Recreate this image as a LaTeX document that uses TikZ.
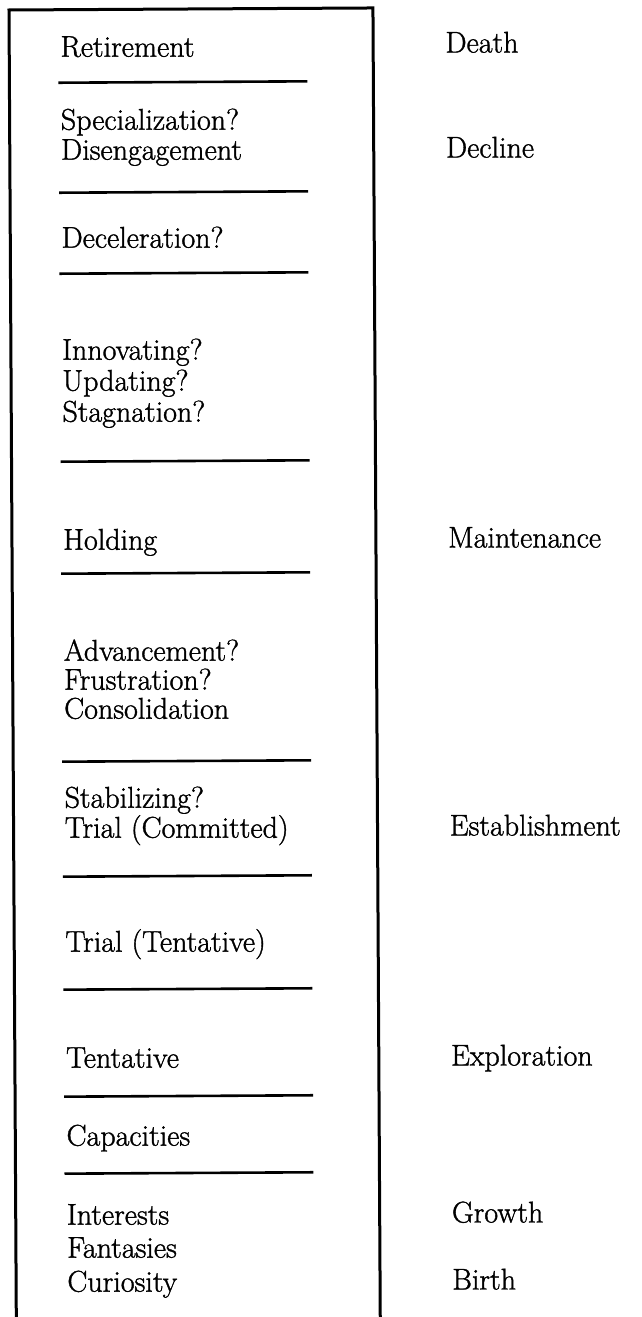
\documentclass[tikz,border=0pt]{standalone}
\usepackage{fontspec}
\newfontfamily\labelfont{Latin Modern Roman}[FakeBold=1.2]
\begin{document}
\begin{tikzpicture}[x=1pt,y=-1pt,
  lbl/.style={anchor=base west, inner sep=0pt, font=\labelfont\fontsize{30}{31}\selectfont},
  frame/.style={line width=3pt, line join=miter},
  rulebar/.style={line width=2.6pt}]
\useasboundingbox (0,0) rectangle (642,1317);
\clip (0,0) rectangle (642,1317);
\begin{scope}[rotate around={0.32:(9,10)}]
  % open frame around the left column
  \coordinate (bl) at (9,1340);
  \coordinate (tl) at (9,10);
  \coordinate (tr) at (373,10);
  \coordinate (br) at (373,1340);
  \draw[frame] (bl) -- (tl) -- (tr) -- (br);

  % left column: substages
  \node[lbl] (retire) at (60,57) {Retirement};
  \draw[rulebar] (58,83) -- (307,83);
  \node[lbl] (spec) at (60,130) {Specialization?};
  \node[lbl] (diseng) at (60,160) {Disengagement};
  \draw[rulebar] (58,193) -- (307,193);
  \node[lbl] (decel) at (60,248) {Deceleration?};
  \draw[rulebar] (58,274) -- (307,274);
  \node[lbl] (innov) at (60,360) {Innovating?};
  \node[lbl] (update) at (60,391) {Updating?};
  \node[lbl] (stag) at (60,422) {Stagnation?};
  \draw[rulebar] (58,462) -- (307,462);
  \node[lbl] (hold) at (60,550) {Holding};
  \draw[rulebar] (58,574) -- (307,574);
  \node[lbl] (adv) at (60,661) {Advancement?};
  \node[lbl] (frus) at (60,690) {Frustration?};
  \node[lbl] (consol) at (60,719) {Consolidation};
  \draw[rulebar] (58,762) -- (307,762);
  \node[lbl] (stab) at (60,808) {Stabilizing?};
  \node[lbl] (trialc) at (60,838) {Trial (Committed)};
  \draw[rulebar] (58,877) -- (307,877);
  \node[lbl] (trialt) at (60,952) {Trial (Tentative)};
  \draw[rulebar] (58,990) -- (307,990);
  \node[lbl] (tent) at (60,1068) {Tentative};
  \draw[rulebar] (58,1097) -- (307,1097);
  \node[lbl] (capa) at (60,1146) {Capacities};
  \draw[rulebar] (58,1174) -- (307,1174);
  \node[lbl] (inter) at (60,1225) {Interests};
  \node[lbl] (fant) at (60,1258) {Fantasies};
  \node[lbl] (curio) at (60,1292) {Curiosity};

  % right column: life stages
  \node[lbl] (death) at (445,55) {Death};
  \node[lbl] (decline) at (445,160) {Decline};
  \node[lbl] (maint) at (445,550) {Maintenance};
  \node[lbl] (estab) at (445,838) {Establishment};
  \node[lbl] (explor) at (445,1068) {Exploration};
  \node[lbl] (growth) at (445,1225) {Growth};
  \node[lbl] (birth) at (445,1292) {Birth};
\end{scope}
\end{tikzpicture}
\end{document}
